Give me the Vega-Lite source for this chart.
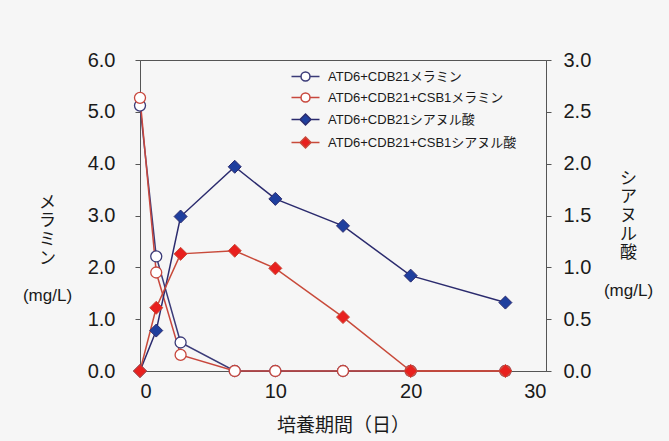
{
  "$schema": "https://vega.github.io/schema/vega-lite/v6.json",
  "width": 406,
  "height": 311,
  "autosize": {"type": "none"},
  "padding": {"left": 140, "top": 60, "right": 123, "bottom": 70},
  "background": "#f6f6f6",
  "config": {
    "view": {"stroke": "#555555", "strokeWidth": 1},
    "font": "Liberation Sans, Noto Sans CJK JP",
    "style": {"guide-title": {"lineHeight": 18.7}},
    "axis": {"labelColor": "#1a1a1a", "titleColor": "#1a1a1a", "domainColor": "#555555", "tickColor": "#555555", "grid": false, "titleFontWeight": "normal", "titleLineHeight": 18.7},
    "legend": {
      "orient": "none",
      "legendX": 159,
      "legendY": 10,
      "labelFontSize": 13,
      "labelColor": "#1a1a1a",
      "labelLimit": 300,
      "symbolSize": 100,
      "symbolStrokeWidth": 1.5,
      "labelOffset": 16,
      "rowPadding": 6
    }
  },
  "data": {
    "values": [
      {"kind": "M", "series": "ATD6+CDB21メラミン", "day": 0, "value": 5.12},
      {"kind": "M", "series": "ATD6+CDB21メラミン", "day": 1.2, "value": 2.21},
      {"kind": "M", "series": "ATD6+CDB21メラミン", "day": 3, "value": 0.55},
      {"kind": "M", "series": "ATD6+CDB21メラミン", "day": 7, "value": 0},
      {"kind": "M", "series": "ATD6+CDB21メラミン", "day": 10, "value": 0},
      {"kind": "M", "series": "ATD6+CDB21メラミン", "day": 15, "value": 0},
      {"kind": "M", "series": "ATD6+CDB21メラミン", "day": 20, "value": 0},
      {"kind": "M", "series": "ATD6+CDB21メラミン", "day": 27, "value": 0},
      {"kind": "M", "series": "ATD6+CDB21+CSB1メラミン", "day": 0, "value": 5.27},
      {"kind": "M", "series": "ATD6+CDB21+CSB1メラミン", "day": 1.2, "value": 1.9},
      {"kind": "M", "series": "ATD6+CDB21+CSB1メラミン", "day": 3, "value": 0.31},
      {"kind": "M", "series": "ATD6+CDB21+CSB1メラミン", "day": 7, "value": 0},
      {"kind": "M", "series": "ATD6+CDB21+CSB1メラミン", "day": 10, "value": 0},
      {"kind": "M", "series": "ATD6+CDB21+CSB1メラミン", "day": 15, "value": 0},
      {"kind": "M", "series": "ATD6+CDB21+CSB1メラミン", "day": 20, "value": 0},
      {"kind": "M", "series": "ATD6+CDB21+CSB1メラミン", "day": 27, "value": 0},
      {"kind": "C", "series": "ATD6+CDB21シアヌル酸", "day": 0, "value": 0},
      {"kind": "C", "series": "ATD6+CDB21シアヌル酸", "day": 1.2, "value": 0.39},
      {"kind": "C", "series": "ATD6+CDB21シアヌル酸", "day": 3, "value": 1.49},
      {"kind": "C", "series": "ATD6+CDB21シアヌル酸", "day": 7, "value": 1.97},
      {"kind": "C", "series": "ATD6+CDB21シアヌル酸", "day": 10, "value": 1.66},
      {"kind": "C", "series": "ATD6+CDB21シアヌル酸", "day": 15, "value": 1.4},
      {"kind": "C", "series": "ATD6+CDB21シアヌル酸", "day": 20, "value": 0.92},
      {"kind": "C", "series": "ATD6+CDB21シアヌル酸", "day": 27, "value": 0.66},
      {"kind": "C", "series": "ATD6+CDB21+CSB1シアヌル酸", "day": 0, "value": 0},
      {"kind": "C", "series": "ATD6+CDB21+CSB1シアヌル酸", "day": 1.2, "value": 0.61},
      {"kind": "C", "series": "ATD6+CDB21+CSB1シアヌル酸", "day": 3, "value": 1.13},
      {"kind": "C", "series": "ATD6+CDB21+CSB1シアヌル酸", "day": 7, "value": 1.16},
      {"kind": "C", "series": "ATD6+CDB21+CSB1シアヌル酸", "day": 10, "value": 0.99},
      {"kind": "C", "series": "ATD6+CDB21+CSB1シアヌル酸", "day": 15, "value": 0.52},
      {"kind": "C", "series": "ATD6+CDB21+CSB1シアヌル酸", "day": 20, "value": 0},
      {"kind": "C", "series": "ATD6+CDB21+CSB1シアヌル酸", "day": 27, "value": 0}
    ]
  },
  "encoding": {
    "x": {
      "field": "day",
      "type": "quantitative",
      "scale": {"domain": [0, 30], "nice": false},
      "axis": {
        "values": [0, 10, 20, 30],
        "format": "d",
        "labelFontSize": 20,
        "labelPadding": 10,
        "ticks": false,
        "title": "培養期間（日）",
        "titleFontSize": 19,
        "titleY": 54,
        "titleBaseline": "middle"
      }
    },
    "stroke": {
      "field": "series",
      "type": "nominal",
      "scale": {
        "domain": ["ATD6+CDB21メラミン", "ATD6+CDB21+CSB1メラミン", "ATD6+CDB21シアヌル酸", "ATD6+CDB21+CSB1シアヌル酸"],
        "range": ["#3b3b78", "#c8473d", "#2b2b6e", "#c84a3a"]
      },
      "legend": {"title": null}
    },
    "fill": {
      "field": "series",
      "type": "nominal",
      "scale": {
        "domain": ["ATD6+CDB21メラミン", "ATD6+CDB21+CSB1メラミン", "ATD6+CDB21シアヌル酸", "ATD6+CDB21+CSB1シアヌル酸"],
        "range": ["#ffffff", "#ffffff", "#1f3f9e", "#e8201e"]
      },
      "legend": {"title": null}
    }
  },
  "layer": [
    {
      "transform": [{"filter": "datum.kind == 'M'"}],
      "encoding": {
        "y": {
          "field": "value",
          "type": "quantitative",
          "scale": {"domain": [0, 6], "nice": false},
          "axis": {
            "orient": "left",
            "values": [0, 1, 2, 3, 4, 5, 6],
            "format": ".1f",
            "labelFontSize": 20,
            "tickSize": 5,
            "labelPadding": 20,
            "title": ["メ", "ラ", "ミ", "ン", "\u200b", "(mg/L)"],
            "titleAngle": 0,
            "titleFontSize": 17,
            "titleAlign": "center",
            "titleBaseline": "middle",
            "titleX": -93,
            "titleY": 142
          }
        }
      },
      "layer": [
        {"mark": {"type": "line", "strokeWidth": 1.5}, "encoding": {"fill": {"value": null}}},
        {"mark": {"type": "point", "shape": "circle", "size": 121, "strokeWidth": 1.3, "opacity": 1}}
      ]
    },
    {
      "transform": [{"filter": "datum.kind == 'C'"}],
      "encoding": {
        "y": {
          "field": "value",
          "type": "quantitative",
          "scale": {"domain": [0, 3], "nice": false},
          "axis": {
            "orient": "right",
            "values": [0, 0.5, 1, 1.5, 2, 2.5, 3],
            "format": ".1f",
            "labelFontSize": 20,
            "tickSize": 5,
            "labelPadding": 12,
            "title": ["シ", "ア", "ヌ", "ル", "酸", "\u200b", "(mg/L)"],
            "titleAngle": 0,
            "titleFontSize": 17,
            "titleAlign": "center",
            "titleBaseline": "middle",
            "titleX": 82,
            "titleY": 118
          }
        }
      },
      "layer": [
        {"mark": {"type": "line", "strokeWidth": 1.5}, "encoding": {"fill": {"value": null}}},
        {"mark": {"type": "point", "shape": "diamond", "size": 169, "strokeWidth": 1, "opacity": 1}},
        {
          "transform": [{"filter": "false"}],
          "mark": {"type": "point", "opacity": 1},
          "encoding": {
            "shape": {
              "field": "series",
              "type": "nominal",
              "scale": {
                "domain": ["ATD6+CDB21メラミン", "ATD6+CDB21+CSB1メラミン", "ATD6+CDB21シアヌル酸", "ATD6+CDB21+CSB1シアヌル酸"],
                "range": [
                  "M-2.8,0H-0.9M0.9,0H2.8M-0.9,0A0.9,0.9 0 1,1 0.9,0A0.9,0.9 0 1,1 -0.9,0",
                  "M-2.8,0H-0.9M0.9,0H2.8M-0.9,0A0.9,0.9 0 1,1 0.9,0A0.9,0.9 0 1,1 -0.9,0",
                  "M-2.8,0H-1.1M1.1,0H2.8M0,-1.1L1.1,0L0,1.1L-1.1,0Z",
                  "M-2.8,0H-1.1M1.1,0H2.8M0,-1.1L1.1,0L0,1.1L-1.1,0Z"
                ]
              },
              "legend": {"title": null}
            }
          }
        }
      ]
    }
  ],
  "resolve": {"scale": {"y": "independent"}}
}
